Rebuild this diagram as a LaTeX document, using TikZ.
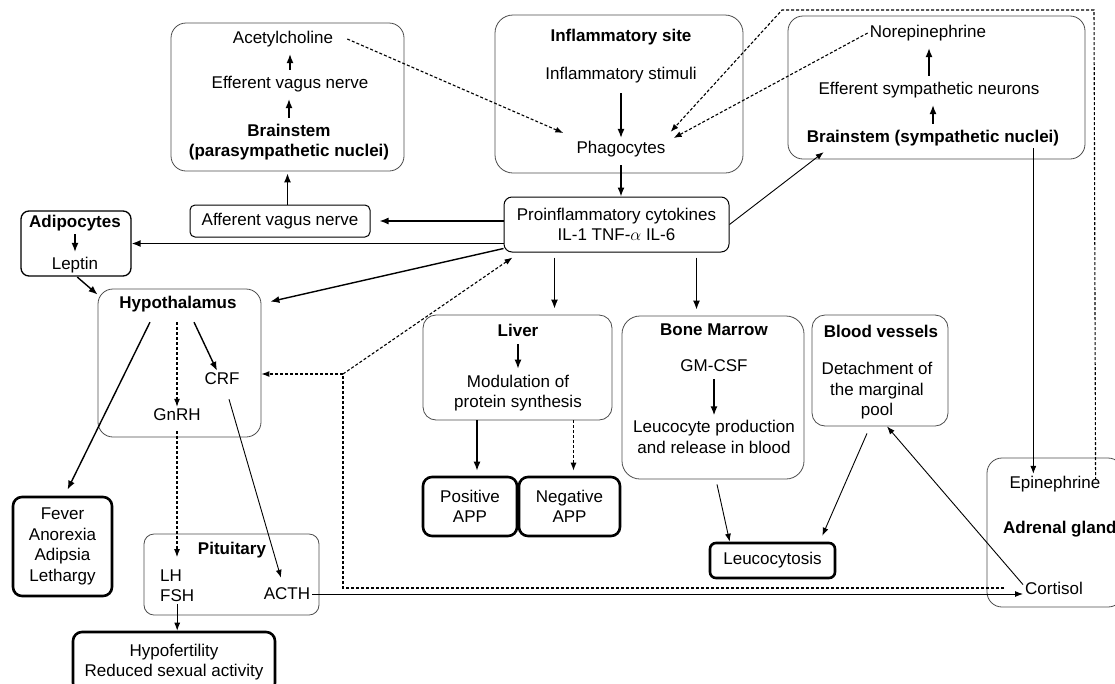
\documentclass[tikz,border=0pt]{standalone}
\usepackage{fontspec}
\setmainfont{Liberation Sans}
\usetikzlibrary{arrows.meta}
\tikzset{
  txt/.style={inner sep=2pt,align=center,font=\fontsize{17}{20.5}\selectfont},
  hd/.style={txt,font=\fontsize{17}{20.5}\selectfont\bfseries},
  region/.style={draw=black!70,line width=0.8pt,rounded corners=15pt},
  smallbox/.style={txt,draw,line width=1pt,rounded corners=5pt},
  outcome/.style={txt,draw,line width=2.6pt,rounded corners=9pt},
  ar/.style={-{Latex[length=9pt,width=7pt]},line width=1.4pt},
  thinar/.style={-{Latex[length=8pt,width=6pt]},line width=0.9pt},
  dashar/.style={-{Latex[length=8pt,width=6pt]},line width=1.1pt,dash pattern=on 3pt off 2pt},
  gapped/.style={shorten <=5pt,shorten >=6pt}
}
\begin{document}
\begin{tikzpicture}[x=1pt,y=-1pt]
              \useasboundingbox(0,0)rectangle(1115,683);
              \clip(0,0)rectangle(1115,683);
              \node[region,minimum width=233,minimum height=148](parabox)at(287.5,97){};
              \node[region,minimum width=248,minimum height=158,rounded corners=18pt](inflbox)at(619,94){};
              \node[region,minimum width=297,minimum height=143](symbox)at(936.5,87.5){};
              \node[region,minimum width=163,minimum height=148](hypobox)at(179.5,363){};
              \node[region,minimum width=189,minimum height=105,rounded corners=13pt](liverbox)at(517.5,367.5){};
              \node[region,minimum width=182,minimum height=163,rounded corners=18pt](marrowbox)at(713,397.5){};
              \node[region,minimum width=136,minimum height=111,rounded corners=13pt](vesselbox)at(880,370.5){};
              \node[region,minimum width=175,minimum height=81,rounded corners=10pt](pitbox)at(231.5,574.5){};
              \node[region,minimum width=136,minimum height=149](adrenalbox)at(1055,532.5){};
              \node[draw,line width=1.3pt,rounded corners=8pt,minimum width=110,minimum height=65](adipo)at(76,243.5){};
              \node[txt](acetyl)at(283,39){Acetylcholine};
              \node[txt](effvagus)at(290,84){Efferent vagus nerve};
              \node[hd](brainpara)at(289,142){Brainstem\\(parasympathetic nuclei)};
              \node[smallbox,minimum width=180,minimum height=32](afferent)at(280,221){Afferent vagus nerve};
              \node[hd](inflsite)at(621,37){Inflammatory site};
              \node[txt](stimuli)at(621,75){Inflammatory stimuli};
              \node[txt](phago)at(621,149){Phagocytes};
              \node[smallbox,minimum width=225,minimum height=55,rounded corners=8pt](cytokines)at(616.5,224.5){Proinflammatory cytokines\\IL-1 TNF-$\alpha$ IL-6};
              \node[txt](norepi)at(928,33){Norepinephrine};
              \node[txt](effsym)at(929,90){Efferent sympathetic neurons};
              \node[hd](brainsym)at(933,138){Brainstem (sympathetic nuclei)};
              \node[hd](adipotext)at(75,223){Adipocytes};
              \node[txt](leptin)at(75,265){Leptin};
              \node[hd](hypotext)at(178,304){Hypothalamus};
              \node[txt](crf)at(222,379){CRF};
              \node[txt](gnrh)at(177,415){GnRH};
              \node[hd](pittext)at(232,550){Pituitary};
              \node[txt,align=left,anchor=west](lhfsh)at(158,585.5){LH\\FSH};
              \node[txt](acth)at(287,594){ACTH};
              \node[hd](livertext)at(518,330){Liver};
              \node[txt](modul)at(518,393){Modulation of\\protein synthesis};
              \node[hd](bmtext)at(714,330){Bone Marrow};
              \node[txt](gmcsf)at(714,366){GM-CSF};
              \node[txt](leuprod)at(714,437){Leucocyte production\\and release in blood};
              \node[hd](bvtext)at(881,331){Blood vessels};
              \node[txt](detach)at(877,391){Detachment of\\the marginal\\pool};
              \node[txt](epi)at(1055,484){Epinephrine};
              \node[hd,anchor=west](adrtext)at(1001,529){Adrenal gland};
              \node[txt,anchor=west](cortisol)at(1023,588){Cortisol};
              \node[outcome,minimum width=99,minimum height=99](fever)at(62.5,546.5){Fever\\Anorexia\\Adipsia\\Lethargy};
              \node[outcome,minimum width=94,minimum height=59](posapp)at(470,506.5){Positive\\APP};
              \node[outcome,minimum width=101,minimum height=59](negapp)at(569.5,506.5){Negative\\APP};
              \node[outcome,minimum width=125,minimum height=35,rounded corners=6pt](leuco)at(772.5,560.5){Leucocytosis};
              \node[outcome,minimum width=202,minimum height=60](hypofert)at(174,662){Hypofertility\\Reduced sexual activity};
              \coordinate(topleft)at(782,10);
              \coordinate(topright)at(1094,10);
              \coordinate(bend)at(343,374);
              \coordinate(symdown)at([xshift=-28pt]brainsym.south east);
              \coordinate(cl)at([xshift=-62pt]cytokines.south);
              \coordinate(cm)at([xshift=80pt]cytokines.south);
              \coordinate(pa)at([xshift=7pt]posapp.north);
              \coordinate(na)at([xshift=4pt]negapp.north);
              \draw[ar,shorten <=4pt,shorten >=5pt](effvagus.north)--(effvagus.north|-acetyl.south);
              \draw[ar,shorten <=4pt,shorten >=5pt](brainpara.north)--(brainpara.north|-effvagus.south);
              \draw[ar,shorten >=2pt](afferent.north-|parabox.south)--(parabox.south);
              \draw[ar](cytokines.west|-afferent.east)--([xshift=9pt]afferent.east);
              \draw[ar](cytokines.west|-adipo.east)--(adipo.east);
              \draw[ar]([shift={(0,-4)}]cytokines.south west)--([shift={(9,13)}]hypobox.north east);
              \draw[ar,shorten <=1pt,shorten >=3pt](adipotext.south)--(adipotext.south|-leptin.north);
              \draw[ar,shorten <=3pt](leptin.south)--([shift={(0,6)}]hypobox.north west);
              \draw[ar,shorten <=8pt,shorten >=1pt](stimuli.south)--(phago.north);
              \draw[ar,shorten <=6pt](phago.south)--(phago.south|-cytokines.north);
              \draw[dashar]([xshift=12pt]acetyl.east)--([shift={(-11,-16)}]phago.west);
              \draw[dashar](norepi.west)--([shift={(6,-11)}]phago.east);
              \draw[dashar]([shift={(-7,-4)}]epi.east)--(topright)--(topleft)--([shift={(3,-7)}]phago.north east);
              \draw[ar,shorten <=4pt,shorten >=5pt](effsym.north)--(effsym.north|-norepi.south);
              \draw[ar,shorten <=4pt,shorten >=5pt](brainsym.north)--(brainsym.north|-effsym.south);
              \draw[thinar](cytokines.east)--([shift={(19,4)}]brainsym.south west);
              \draw[thinar](symdown)--(symdown|-epi.north);
              \draw[ar,gapped](cl)--(cl|-liverbox.north);
              \draw[ar,gapped](cm)--(cm|-marrowbox.north);
              \draw[ar,shorten <=6pt,shorten >=4pt](livertext.south)--(livertext.south|-modul.north);
              \draw[ar,shorten >=5pt](pa|-liverbox.south)--(pa);
              \draw[dashar,shorten >=5pt](na|-liverbox.south)--(na);
              \draw[ar,shorten <=5pt,shorten >=3pt](gmcsf.south)--(gmcsf.south|-leuprod.north);
              \draw[thinar]([shift={(4,5)}]marrowbox.south)--([xshift=21pt]leuco.north west);
              \draw[thinar]([shift={(-13,7)}]vesselbox.south)--([shift={(-14,-6)}]leuco.north east);
              \draw[thinar]([shift={(0,5)}]cortisol.north west)--([xshift=7pt]vesselbox.south);
              \draw[thinar](acth.east)--(acth.east-|cortisol.west);
              \draw[dashar]([xshift=-19pt]cortisol.west)-|(bend)--(bend-|hypobox.east);
              \draw[dashar](bend)--([shift={(9,5)}]cytokines.south west);
              \draw[ar]([shift={(-28,8)}]hypotext.south)--([shift={(5,-6)}]fever.north);
              \draw[dashar]([shift={(-1,8)}]hypotext.south)--(gnrh.north);
              \draw[ar]([shift={(16,8)}]hypotext.south)--([xshift=-5pt]crf.north);
              \draw[thinar]([shift={(7,12)}]crf.south)--([shift={(-6,-8)}]acth.north);
              \draw[dashar,shorten <=8pt,shorten >=10pt](gnrh.south)--(gnrh.south|-lhfsh.north);
              \draw[thinar](lhfsh.south)--(lhfsh.south|-hypofert.north);
            \end{tikzpicture}
\end{document}
